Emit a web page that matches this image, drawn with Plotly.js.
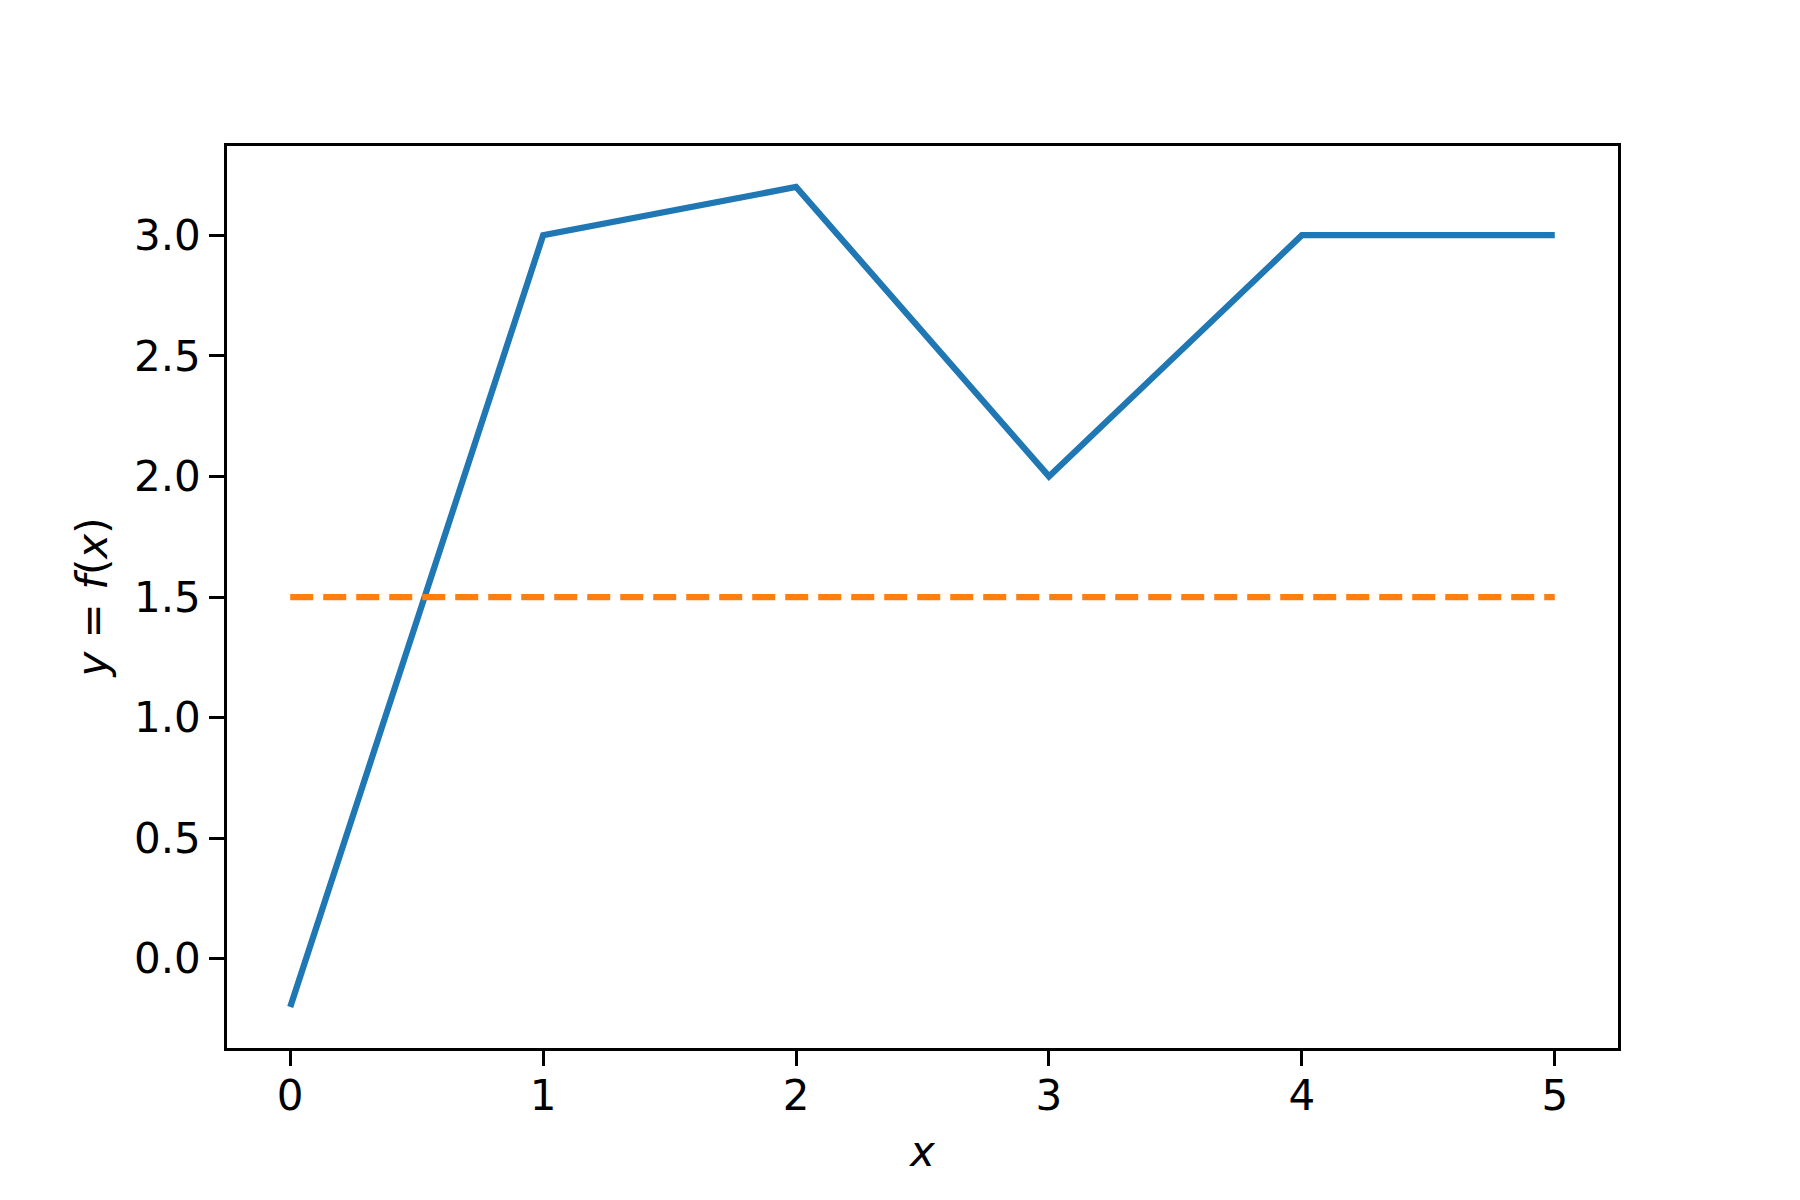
<!DOCTYPE html>
<html lang="en">
<head>
    <meta charset="utf-8">
    <script src="https://cdn.plot.ly/plotly-3.0.1.min.js"></script>
    <title>y = f(x)</title>
    <style>
        body { margin: 0; background: #fff; }
        #divPlot { width: 1800px; height: 1200px; }
    </style>
</head>
<body>
    <div id="divPlot"></div>
    <script>
        // data
        var xs = [0, 1, 2, 3, 4, 5];
        var fx = [-0.2, 3.0, 3.2, 2.0, 3.0, 3.0];
        var level = [1.5, 1.5, 1.5, 1.5, 1.5, 1.5];
        var yTicks = [0, 0.5, 1, 1.5, 2, 2.5, 3];
        var yTickText = ['0.0', '0.5', '1.0', '1.5', '2.0', '2.5', '3.0'];

        var trace1 = {
            type: 'scatter',
            mode: 'lines',
            x: xs,
            y: fx,
            line: {color: '#1f77b4', width: 6.25},
            showlegend: false
        };

        var trace2 = {
            type: 'scatter',
            mode: 'lines',
            x: xs,
            y: level,
            line: {color: '#ff7f0e', width: 6.25, dash: '23px,10px'},
            showlegend: false
        };

        var axisStyle = {
            showgrid: false,
            zeroline: false,
            showline: true,
            mirror: true,
            linecolor: '#000',
            linewidth: 3.3,
            ticks: 'outside',
            ticklen: 14.6,
            tickwidth: 3.3,
            tickcolor: '#000',
            tickfont: {family: 'DejaVu Sans', size: 42, color: '#000'}
        };

        var layout = {
            width: 1800,
            height: 1200,
            margin: {l: 227, r: 182, t: 146, b: 152},
            paper_bgcolor: '#fff',
            plot_bgcolor: '#fff',
            font: {family: 'DejaVu Sans', color: '#000'},
            xaxis: Object.assign({}, axisStyle, {
                range: [-0.25, 5.25],
                tickvals: xs,
                ticktext: xs.map(String),
                ticklabelstandoff: -6,
                title: {text: '<i>x</i>', font: {family: 'DejaVu Sans', size: 42}, standoff: 18}
            }),
            yaxis: Object.assign({}, axisStyle, {
                range: [-0.37, 3.37],
                tickvals: yTicks,
                ticktext: yTickText,
                title: {text: '<i>y</i> = <i>f</i>(<i>x</i>)', font: {family: 'DejaVu Sans', size: 42}, standoff: 14}
            })
        };

        Plotly.newPlot('divPlot', [trace1, trace2], layout, {displayModeBar: false});
    </script>
</body>
</html>
